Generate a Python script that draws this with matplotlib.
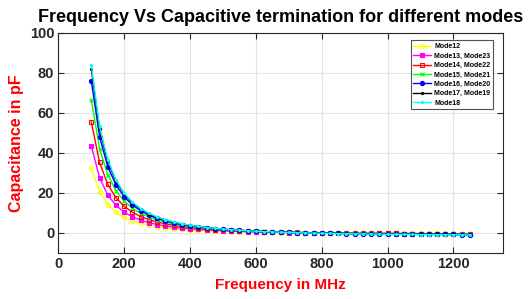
import numpy as np
import matplotlib
matplotlib.use("Agg")
import matplotlib.pyplot as plt

plt.rcParams['font.family'] = ['Liberation Sans', 'DejaVu Sans']

freq = [100, 125, 150, 175, 200, 225, 250, 275, 300, 325, 350, 375, 400, 425,
        450, 475, 500, 525, 550, 575, 600, 625, 650, 675, 700, 725, 750, 775,
        800, 825, 850, 875, 900, 925, 950, 975, 1000, 1025, 1050, 1075, 1100,
        1125, 1150, 1175, 1200, 1225, 1250]

mode12 = [32.5, 20.62, 14.17, 10.27, 7.75, 6.02, 4.78, 3.86, 3.17, 2.63, 2.19,
          1.85, 1.56, 1.33, 1.13, 0.96, 0.82, 0.70, 0.59, 0.50, 0.42, 0.34, 0.28,
          0.22, 0.17, 0.13, 0.09, 0.05, 0.01, -0.01, -0.04, -0.07, -0.09, -0.11,
          -0.13, -0.15, -0.17, -0.19, -0.20, -0.21, -0.23, -0.24, -0.25, -0.26,
          -0.27, -0.28, -0.29]
mode13 = [43.5, 27.59, 18.94, 13.73, 10.35, 8.03, 6.37, 5.14, 4.21, 3.49, 2.91,
          2.44, 2.06, 1.75, 1.48, 1.26, 1.07, 0.90, 0.76, 0.63, 0.53, 0.43, 0.35,
          0.27, 0.20, 0.14, 0.09, 0.03, -0.01, -0.05, -0.09, -0.12, -0.16, -0.18,
          -0.21, -0.24, -0.26, -0.28, -0.30, -0.32, -0.33, -0.35, -0.36, -0.38,
          -0.39, -0.40, -0.42]
mode14 = [55.5, 35.23, 24.22, 17.58, 13.28, 10.32, 8.21, 6.64, 5.46, 4.53, 3.79,
          3.20, 2.72, 2.32, 1.98, 1.69, 1.45, 1.24, 1.06, 0.90, 0.77, 0.64, 0.53,
          0.43, 0.35, 0.27, 0.20, 0.13, 0.08, 0.03, -0.02, -0.06, -0.11, -0.14,
          -0.18, -0.21, -0.24, -0.27, -0.29, -0.31, -0.33, -0.36, -0.37, -0.39,
          -0.41, -0.42, -0.44]
mode15 = [66.5, 42.2, 29.0, 21.04, 15.88, 12.33, 9.8, 7.92, 6.50, 5.39, 4.51,
          3.80, 3.22, 2.74, 2.33, 1.99, 1.70, 1.45, 1.23, 1.04, 0.88, 0.73, 0.60,
          0.48, 0.38, 0.28, 0.20, 0.12, 0.05, -0.01, -0.07, -0.12, -0.17, -0.21,
          -0.25, -0.29, -0.33, -0.36, -0.39, -0.41, -0.44, -0.47, -0.49, -0.51,
          -0.53, -0.55, -0.57]
mode16 = [76.0, 48.17, 33.05, 23.94, 18.03, 13.97, 11.07, 8.92, 7.29, 6.02, 5.01,
          4.20, 3.53, 2.98, 2.52, 2.12, 1.79, 1.51, 1.26, 1.03, 0.85, 0.68, 0.53,
          0.39, 0.28, 0.17, 0.08, -0.02, -0.09, -0.16, -0.23, -0.29, -0.35, -0.40,
          -0.44, -0.49, -0.53, -0.57, -0.60, -0.63, -0.66, -0.69, -0.71, -0.74,
          -0.77, -0.78, -0.81]
mode17 = [82.0, 51.98, 35.67, 25.83, 19.45, 15.07, 11.94, 9.63, 7.87, 6.50, 5.41,
          4.53, 3.81, 3.22, 2.72, 2.29, 1.94, 1.63, 1.36, 1.12, 0.92, 0.74, 0.58,
          0.43, 0.30, 0.18, 0.08, -0.02, -0.10, -0.17, -0.25, -0.31, -0.37, -0.42,
          -0.47, -0.52, -0.57, -0.61, -0.64, -0.67, -0.71, -0.74, -0.77, -0.80,
          -0.82, -0.84, -0.87]
mode18 = [84.0, 53.22, 36.5, 26.42, 19.88, 15.39, 12.18, 9.80, 8.00, 6.60, 5.48,
          4.58, 3.84, 3.24, 2.72, 2.29, 1.92, 1.60, 1.33, 1.08, 0.88, 0.69, 0.53,
          0.37, 0.24, 0.12, 0.02, -0.08, -0.17, -0.24, -0.32, -0.38, -0.45, -0.50,
          -0.55, -0.60, -0.65, -0.69, -0.72, -0.76, -0.79, -0.82, -0.85, -0.88,
          -0.91, -0.93, -0.95]

labels = ["Mode12", "Mode13, Mode23", "Mode14, Mode22", "Mode15, Mode21",
          "Mode16, Mode20", "Mode17, Mode19", "Mode18"]
series = [mode12, mode13, mode14, mode15, mode16, mode17, mode18]
colors = ["#ffff00", "#ff00ff", "#ff0000", "#00ff00", "#0000ff", "#000000", "#00ffff"]
markers = ["o", "s", "s", "x", "o", ".", "."]
fills = ["none", "full", "none", "full", "full", "full", "full"]

fig = plt.figure(figsize=(5.31, 2.99), dpi=100)
ax = fig.add_axes([0.110, 0.154, 0.837, 0.736])

for vals, lab, c, m, f in zip(series, labels, colors, markers, fills):
    ax.plot(freq, vals, color=c, marker=m, markersize=3, linewidth=1,
            fillstyle=f, markeredgewidth=0.8, label=lab)

ax.set_xlim(0, 1350)
ax.set_ylim(-10, 100)
ax.set_xticks(range(0, 1201, 200))
ax.set_yticks(range(0, 101, 20))
ax.grid(True, color="#e3e3e3", linewidth=0.8)
ax.tick_params(direction="in", top=True, right=True, length=4, width=0.8,
               labelsize=10.5, colors="#262626", pad=3)
for lbl in ax.get_xticklabels() + ax.get_yticklabels():
    lbl.set_fontweight("bold")
for sp in ax.spines.values():
    sp.set_color("#262626")
    sp.set_linewidth(0.8)

ax.set_title("Frequency Vs Capacitive termination for different modes",
             fontsize=13, fontweight="bold", pad=8)
ax.set_xlabel("Frequency in MHz", fontsize=11, fontweight="bold", color="red",
              labelpad=5)
ax.set_ylabel("Capacitance in pF", fontsize=11.5, fontweight="bold", color="red",
              labelpad=4)

leg = ax.legend(loc="upper right", prop={"weight": "bold", "size": 5},
                frameon=True, fancybox=False, edgecolor="#262626",
                handlelength=2.5, borderpad=0.4, labelspacing=0.35,
                handletextpad=0.5, bbox_to_anchor=(0.986, 0.982))
leg.get_frame().set_linewidth(0.8)

fig.savefig("out.png", dpi=100)
